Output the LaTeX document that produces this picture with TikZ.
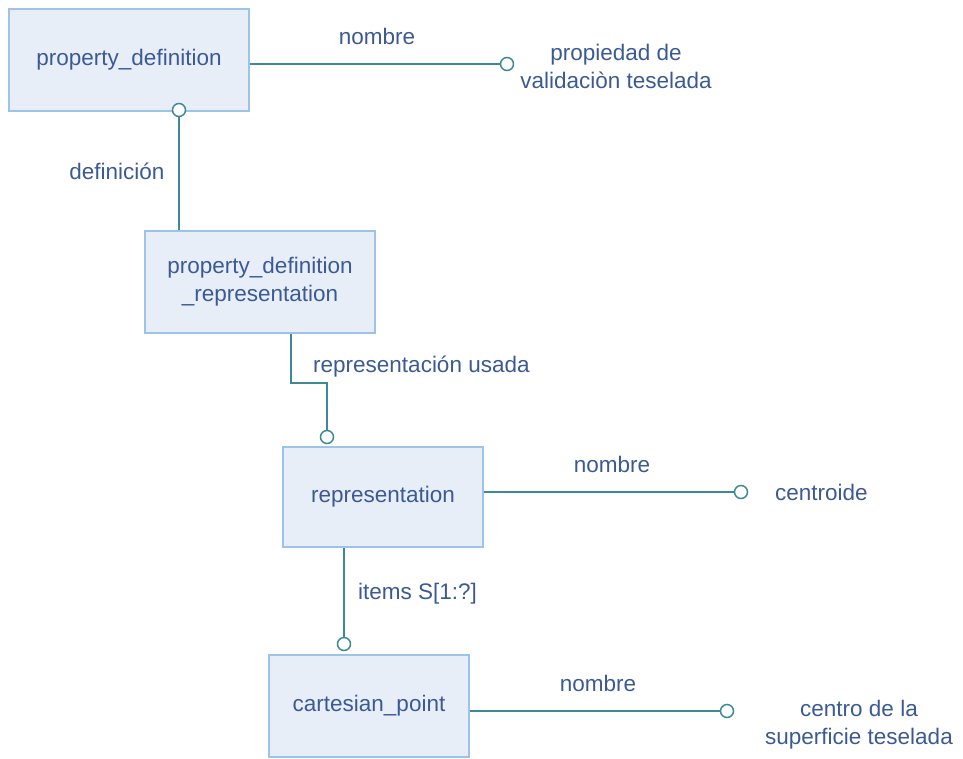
\documentclass[tikz,border=0pt]{standalone}
\usepackage{fontspec}
\setmainfont{Liberation Sans}
\usepackage{xcolor}
\usetikzlibrary{positioning}
\definecolor{boxfill}{HTML}{E8EEF8}
\definecolor{boxline}{HTML}{9DC3E6}
\definecolor{linkcol}{HTML}{3E8A94}
\definecolor{txtcol}{HTML}{3B5A95}

\begin{document}
\begin{tikzpicture}[x=1pt,y=-1pt,
  font=\fontsize{22.5}{28}\selectfont, text=txtcol,
  entity/.style={draw=boxline,fill=boxfill,line width=1.8pt,inner sep=0pt,align=center},
  ring/.style={circle,draw=linkcol,fill=white,line width=1.5pt,minimum size=13pt,inner sep=0pt},
  link/.style={draw=linkcol,line width=1.8pt},
  lbl/.style={inner sep=0pt,align=center}]
  \useasboundingbox (0,0) rectangle (963,758);
  % entities
  \node[entity,minimum width=240pt,minimum height=102pt] (pd) at (129,60) {property\_definition};
  \node[entity,minimum width=230pt,minimum height=102pt] (pdr) at (260,282) {property\_definition\\\_representation};
  \node[entity,minimum width=200pt,minimum height=100pt] (rep) at (383,497) {representation};
  \node[entity,minimum width=200pt,minimum height=102pt] (cp) at (369,706) {cartesian\_point};
  % rings
  \node[ring] (pdname) at (507,64) {};
  \node[ring] (pddef) at (179,110) {};
  \node[ring] (pdruse) at (327,437) {};
  \node[ring] (repname) at (741,492) {};
  \node[ring] (repitems) at (344,644) {};
  \node[ring] (cpname) at (727,711) {};
  \coordinate (bend) at (291,383);
  % links
  \path[link] (pd.east |- pdname) -- (pdname);
  \path[link] (pddef) -- (pddef |- pdr.north);
  \path[link] (bend |- pdr.south) -- (bend) -| (pdruse);
  \path[link] (rep.east |- repname) -- (repname);
  \path[link] (repitems) -- (repitems |- rep.south);
  \path[link] (cp.east |- cpname) -- (cpname);
  % labels
  \node[lbl] (n1) at (377,36) {nombre};
  \node[lbl] (t1) at (616,66) {propiedad de\\validaciòn teselada};
  \node[lbl] (d1) at (117,171) {definición};
  \node[lbl,anchor=west] (u1) at (313,367) {representación usada};
  \node[lbl] (n2) at (612,464) {nombre};
  \node[lbl,anchor=west] (t2) at (775,492) {centroide};
  \node[lbl,anchor=west] (i1) at (358,594) {items S[1:?]};
  \node[lbl] (n3) at (598,683) {nombre};
  \node[lbl] (t3) at (859,725) {centro de la\\superficie teselada};
\end{tikzpicture}
\end{document}
